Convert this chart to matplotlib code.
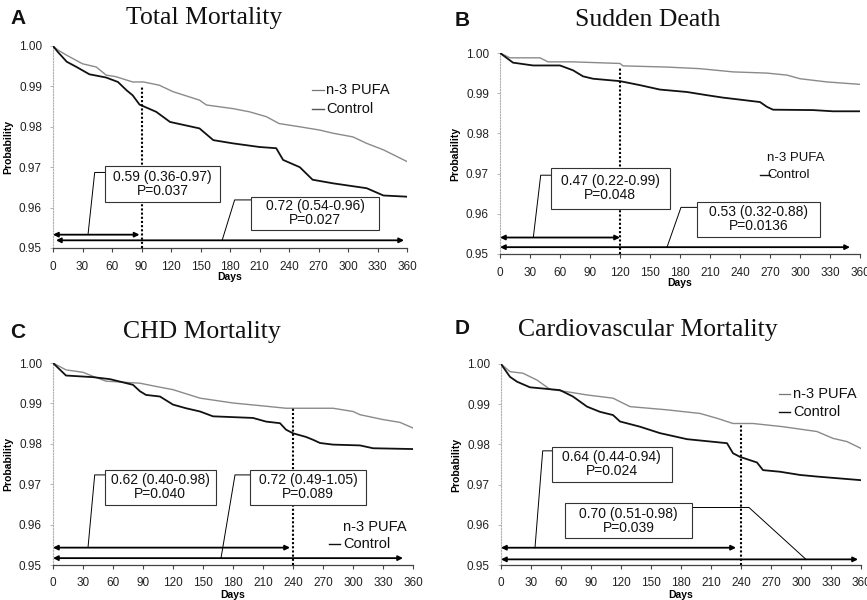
import matplotlib
matplotlib.use("Agg")
import matplotlib.pyplot as plt
from matplotlib.patches import Rectangle

# ---------------- data ----------------
x_ticks = [0, 30, 60, 90, 120, 150, 180, 210, 240, 270, 300, 330, 360]
y_ticks = [0.95, 0.96, 0.97, 0.98, 0.99, 1.00]

titles = ["Total Mortality", "Sudden Death", "CHD Mortality", "Cardiovascular Mortality"]
letters = ["A", "B", "C", "D"]
series_names = ["n-3 PUFA", "Control"]

A_days_pufa = [0, 5, 14, 30, 44, 54, 64, 81, 92, 108, 122, 149, 156, 183, 200, 217, 230, 251, 271, 285, 305, 319, 336, 360]
A_pufa = [1.0, 0.9990, 0.9977, 0.9956, 0.9948, 0.9928, 0.9924, 0.9911, 0.9911, 0.9903, 0.9887, 0.9866, 0.9854, 0.9845,
          0.9837, 0.9825, 0.9808, 0.9800, 0.9792, 0.9784, 0.9775, 0.9759, 0.9743, 0.9714]
A_days_ctrl = [0, 5, 14, 24, 37, 54, 66, 75, 81, 88, 105, 119, 149, 163, 183, 210, 227, 234, 251, 264, 285, 319, 336, 360]
A_ctrl = [1.0, 0.9985, 0.9961, 0.9948, 0.9930, 0.9922, 0.9911, 0.9890, 0.9878, 0.9855, 0.9837, 0.9812, 0.9796, 0.9767,
          0.9759, 0.9750, 0.9747, 0.9718, 0.9700, 0.9669, 0.9660, 0.9648, 0.9630, 0.9627]

B_days_pufa = [0, 10, 40, 48, 72, 120, 123, 167, 200, 233, 267, 287, 300, 327, 360]
B_pufa = [1.0, 0.9988, 0.9988, 0.9978, 0.9978, 0.9974, 0.9968, 0.9965, 0.9961, 0.9953, 0.9950, 0.9945, 0.9936, 0.9928, 0.9922]
B_days_ctrl = [0, 13, 33, 60, 73, 83, 93, 120, 140, 160, 187, 207, 223, 240, 260, 267, 273, 313, 333, 360]
B_ctrl = [1.0, 0.9976, 0.9969, 0.9969, 0.9957, 0.9942, 0.9936, 0.9930, 0.9920, 0.9909, 0.9903, 0.9895, 0.9889, 0.9884,
          0.9878, 0.9866, 0.9859, 0.9858, 0.9855, 0.9855]

C_days_pufa = [0, 13, 30, 40, 53, 87, 103, 120, 147, 180, 213, 233, 280, 300, 307, 330, 347, 360]
C_pufa = [1.0, 0.9983, 0.9977, 0.9967, 0.9955, 0.9950, 0.9942, 0.9934, 0.9913, 0.9901, 0.9893, 0.9888, 0.9888, 0.9880,
          0.9872, 0.9860, 0.9853, 0.9839]
C_days_ctrl = [0, 13, 40, 57, 80, 87, 93, 107, 120, 133, 147, 160, 200, 213, 227, 233, 240, 253, 260, 267, 280, 307, 320, 360]
C_ctrl = [1.0, 0.9969, 0.9965, 0.9960, 0.9946, 0.9930, 0.9921, 0.9917, 0.9897, 0.9888, 0.9880, 0.9868, 0.9864, 0.9855,
          0.9851, 0.9835, 0.9826, 0.9817, 0.9810, 0.9802, 0.9798, 0.9796, 0.9789, 0.9787]

D_days_pufa = [0, 9, 22, 36, 49, 66, 86, 112, 129, 166, 199, 216, 232, 252, 282, 316, 332, 346, 360]
D_pufa = [1.0, 0.9981, 0.9977, 0.9960, 0.9937, 0.9931, 0.9923, 0.9915, 0.9894, 0.9886, 0.9877, 0.9865, 0.9852, 0.9852,
          0.9844, 0.9832, 0.9815, 0.9807, 0.9790]
D_days_ctrl = [0, 9, 16, 29, 59, 72, 86, 99, 112, 119, 139, 159, 186, 226, 232, 239, 256, 262, 279, 299, 316, 360]
D_ctrl = [1.0, 0.9968, 0.9956, 0.9942, 0.9935, 0.9919, 0.9894, 0.9881, 0.9873, 0.9857, 0.9844, 0.9828, 0.9813, 0.9803,
          0.9778, 0.9769, 0.9755, 0.9736, 0.9732, 0.9724, 0.9720, 0.9711]

cutoff_days = [90, 120, 240, 240]
hr_early = ["0.59 (0.36-0.97)\nP=0.037", "0.47 (0.22-0.99)\nP=0.048",
            "0.62 (0.40-0.98)\nP=0.040", "0.64 (0.44-0.94)\nP=0.024"]
hr_full = ["0.72 (0.54-0.96)\nP=0.027", "0.53 (0.32-0.88)\nP=0.0136",
           "0.72 (0.49-1.05)\nP=0.089", "0.70 (0.51-0.98)\nP=0.039"]

# ---------------- layout / styling ----------------
W, H = 867, 600
fig = plt.figure(figsize=(W / 100, H / 100), dpi=100)
fig.patch.set_facecolor("white")

SANS = ["Liberation Sans", "DejaVu Sans"]
SERIF = ["Liberation Serif", "DejaVu Serif"]

def px_axes(l, r, t, b):
    return fig.add_axes([l / W, 1 - b / H, (r - l) / W, (b - t) / H])

axes_px = [(53, 407, 46, 248), (500, 860, 53, 254), (53, 413, 363, 565), (501, 861, 364, 565)]
title_px = [(204, 18), (648, 20), (202, 332), (648, 330)]
letter_px = [(10, 18), (455, 20), (10, 332), (455, 328)]

panel_data = [
    (A_days_pufa, A_pufa, A_days_ctrl, A_ctrl),
    (B_days_pufa, B_pufa, B_days_ctrl, B_ctrl),
    (C_days_pufa, C_pufa, C_days_ctrl, C_ctrl),
    (D_days_pufa, D_pufa, D_days_ctrl, D_ctrl),
]

# annotation geometry (data coords)
vline_top = [0.9900, 0.9966, 0.9888, 0.9848]
short_arrow = [(0, 88, 0.9533), (0, 120, 0.9541), (0, 237, 0.9543), (0, 235, 0.9543)]
long_arrow = [(3, 357, 0.9519), (0, 350, 0.9517), (0, 350, 0.9517), (0, 357, 0.9514)]
box1 = [(52.5, 170, 0.9615, 0.9702), (50.7, 170, 0.9613, 0.9713), (51.7, 163, 0.9649, 0.9736), (50.7, 170.7, 0.9707, 0.9794)]
box2 = [(201.7, 332, 0.9545, 0.9627), (197, 320, 0.9543, 0.9630), (197, 313, 0.9649, 0.9736), (64, 190.7, 0.9566, 0.9653)]
lead1 = [
    ([35.6, 42.4, 52.5], [0.9533, 0.9687, 0.9687]),
    ([33.3, 40.7, 50.7], [0.9541, 0.9696, 0.9696]),
    ([35, 41.7, 51.7], [0.9543, 0.9723, 0.9723]),
    ([34, 41.7, 50.7], [0.9543, 0.9784, 0.9784]),
]
lead2 = [
    ([172, 184.7, 201.7], [0.9519, 0.9619, 0.9619]),
    ([167, 181, 197], [0.9517, 0.9616, 0.9616]),
    ([168, 182, 197], [0.9517, 0.9723, 0.9723]),
    ([190.7, 248, 305], [0.9643, 0.9643, 0.9514]),
]
# legend: (line x0, line x1, text x, y1, y2, pufa line color, ctrl line color)
legend_pos = [
    (263, 276, 278, 0.9892, 0.9843, "#777777", "#555555"),
    (260, 270, 267, 0.9738, 0.9697, None, "#111111"),
    (276, 287, 290, 0.9593, 0.9551, None, "#111111"),
    (278, 289, 292, 0.9925, 0.9881, "#777777", "#111111"),
]

PUFA_COLOR = "#8a8a8a"
CTRL_COLOR = "#111111"

for i in range(4):
    ax = px_axes(*axes_px[i])
    dp, vp, dc, vc = panel_data[i]
    ax.plot(dp, vp, color=PUFA_COLOR, lw=1.0, zorder=3)
    ax.plot(dc, vc, color=CTRL_COLOR, lw=1.3, zorder=3)

    ax.set_xlim(0, 360)
    ax.set_ylim(0.95, 1.0)
    ax.set_xticks(x_ticks)
    ax.set_yticks(y_ticks)
    ax.set_xticklabels([str(t) for t in x_ticks], fontsize=8.5, family=SANS, color="#222222")
    ax.set_yticklabels([f"{t:.2f}" for t in y_ticks], fontsize=8.5, family=SANS, color="#222222")
    ax.tick_params(axis="x", direction="out", length=3, width=0.8, color="#444444", pad=6)
    ax.tick_params(axis="y", direction="out", length=2, width=0.6, color="#aaaaaa", pad=6)
    for s in ("top", "right"):
        ax.spines[s].set_visible(False)
    ax.spines["left"].set_color("#b0b0b0")
    ax.spines["left"].set_linestyle((0, (1, 1.5)))
    ax.spines["left"].set_linewidth(0.8)
    ax.spines["bottom"].set_color("#444444")
    ax.spines["bottom"].set_linewidth(0.9)
    ax.set_xlabel("Days", fontsize=7.5, family=SANS, fontweight="bold", labelpad=0)
    ax.set_ylabel("Probability", fontsize=7.5, family=SANS, fontweight="bold", labelpad=4)

    # dotted cutoff line
    ax.plot([cutoff_days[i], cutoff_days[i]], [0.95, vline_top[i]], color="black", lw=1.5,
            linestyle=(0, (1, 1)), zorder=4, clip_on=False)

    # arrows
    for (x0, x1, y) in (short_arrow[i], long_arrow[i]):
        ax.annotate("", xy=(x1, y), xytext=(x0, y),
                    arrowprops=dict(arrowstyle="<|-|>", color="black", lw=1.3,
                                    mutation_scale=7, shrinkA=0, shrinkB=0), zorder=5)

    # leader lines
    for lx, ly in (lead1[i], lead2[i]):
        ax.plot(lx, ly, color="black", lw=0.7, zorder=5)

    # boxes
    for (bx0, bx1, by0, by1), txt in ((box1[i], hr_early[i]), (box2[i], hr_full[i])):
        ax.add_patch(Rectangle((bx0, by0), bx1 - bx0, by1 - by0, facecolor="white",
                               edgecolor="#333333", lw=0.8, zorder=6))
        ax.text((bx0 + bx1) / 2, (by0 + by1) / 2, txt, ha="center", va="center",
                fontsize=10, family=SANS, linespacing=1.0, zorder=7, color="#111111")

    # legend
    lx0, lx1, tx, y1, y2, c1, c2 = legend_pos[i]
    if c1:
        ax.plot([lx0, lx1], [y1, y1], color=c1, lw=0.9, zorder=5)
    ax.plot([lx0, lx1], [y2, y2], color=c2, lw=1.0, zorder=5)
    lfs = 9.5 if i == 1 else 10.5
    ax.text(tx, y1, series_names[0], ha="left", va="center", fontsize=lfs, family=SANS, color="#111111")
    ax.text(tx, y2, series_names[1], ha="left", va="center", fontsize=lfs, family=SANS, color="#111111")

    # titles
    fig.text(title_px[i][0] / W, 1 - title_px[i][1] / H, titles[i], ha="center", va="center",
             fontsize=18.5, family=SERIF, color="#111111")
    fig.text(letter_px[i][0] / W, 1 - letter_px[i][1] / H, letters[i], ha="left", va="center",
             fontsize=15, family=SANS, fontweight="bold", color="#111111")

fig.savefig("out.png", dpi=100, facecolor="white")
